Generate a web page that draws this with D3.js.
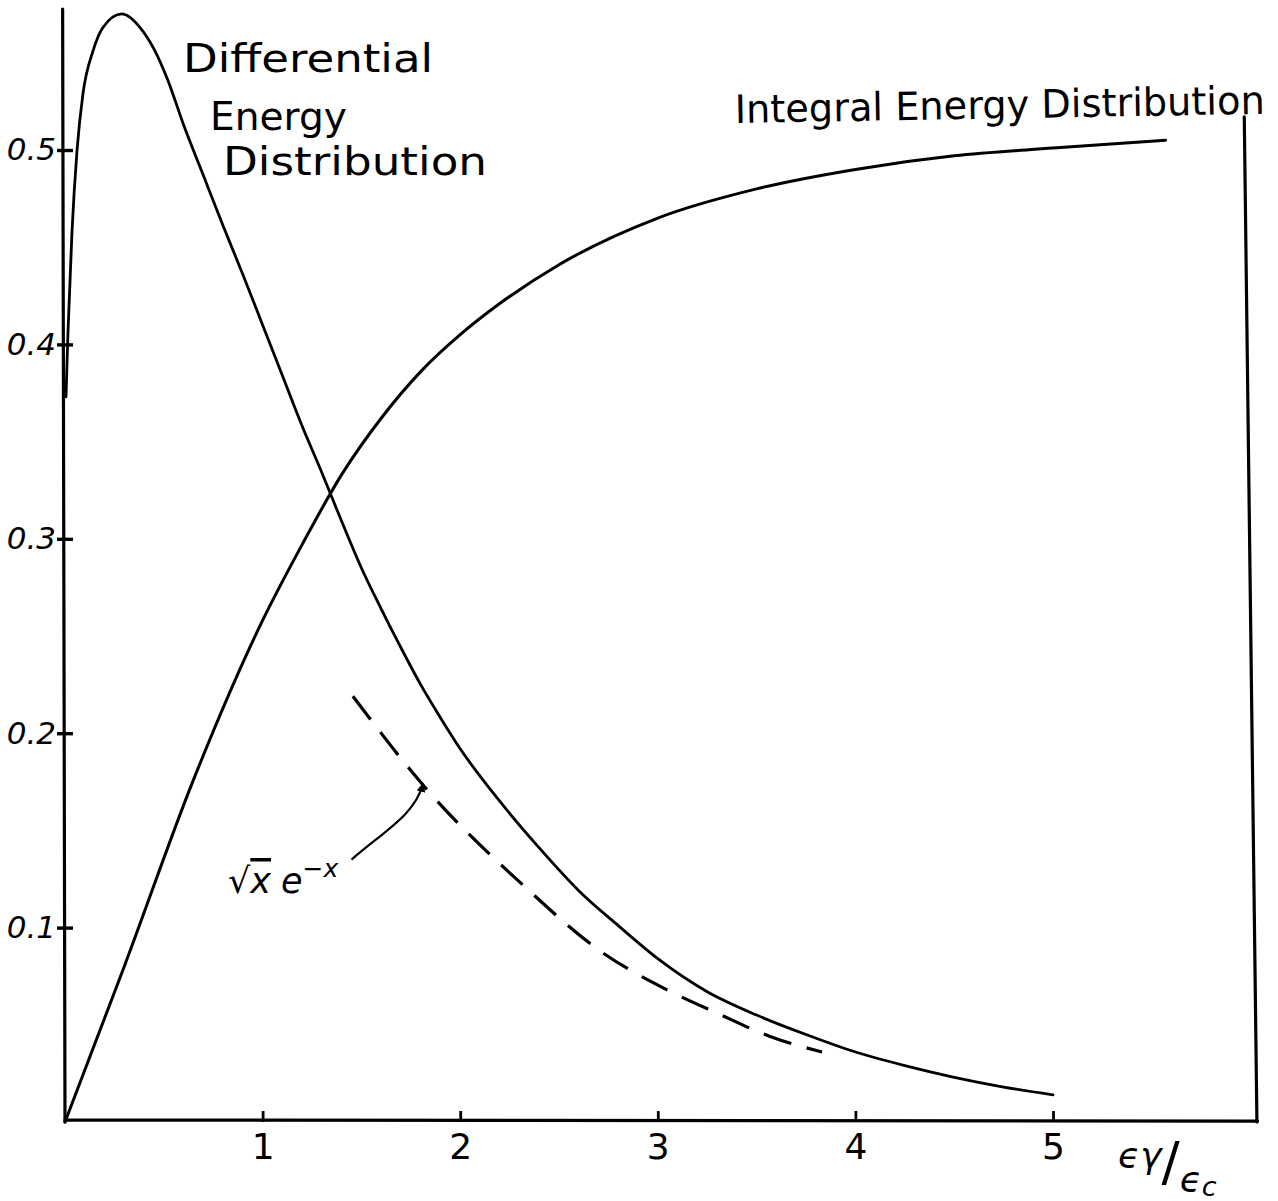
<!DOCTYPE html>
<html>
<head>
<meta charset="utf-8">
<script src="https://cdn.jsdelivr.net/npm/d3@7"></script>
<style>
  body { margin: 0; background: #fff; }
  svg { display: block; }
  text { font-family: "DejaVu Sans", sans-serif; fill: #000; }
</style>
</head>
<body>
<svg id="chart" width="1278" height="1201"></svg>
<script>
// Axis ticks
const xTicks = [1, 2, 3, 4, 5];
const xTickLabels = ["1", "2", "3", "4", "5"];
const yTicks = [0.1, 0.2, 0.3, 0.4, 0.5];
const yTickLabels = ["0.1", "0.2", "0.3", "0.4", "0.5"];

// Differential energy distribution (solid)
const diffX = [0.005, 0.015, 0.035, 0.061, 0.091, 0.142, 0.192, 0.288, 0.38, 0.45,
               0.52, 0.60, 0.70, 0.80, 0.90, 1.00, 1.10, 1.20, 1.30, 1.40,
               1.50, 1.60, 1.70, 1.80, 1.90, 2.00, 2.20, 2.40, 2.60, 2.80,
               3.00, 3.25, 3.50, 3.75, 4.00, 4.25, 4.50, 4.75, 5.00];
const diffY = [0.373, 0.406, 0.457, 0.500, 0.529, 0.551, 0.563, 0.570, 0.563, 0.552,
               0.536, 0.513, 0.487, 0.461, 0.436, 0.410, 0.384, 0.358, 0.334, 0.309,
               0.285, 0.264, 0.244, 0.225, 0.208, 0.192, 0.165, 0.141, 0.119, 0.101,
               0.084, 0.067, 0.055, 0.045, 0.036, 0.029, 0.023, 0.018, 0.014];

// Integral energy distribution (solid)
const integX = [0, 0.30, 0.65, 1.00, 1.20, 1.40, 1.60, 1.80, 2.00, 2.20,
                2.50, 3.00, 3.50, 4.00, 4.50, 5.00, 5.57];
const integY = [0, 0.080, 0.176, 0.258, 0.297, 0.333, 0.362, 0.386, 0.405, 0.421,
                0.441, 0.465, 0.480, 0.490, 0.497, 0.501, 0.505];

// Asymptotic form sqrt(x) e^-x (dashed)
const asymX = [1.457, 1.832, 2.338, 2.708, 3.047, 3.300, 3.568, 3.831];
const asymY = [0.219, 0.171, 0.120, 0.088, 0.068, 0.056, 0.044, 0.036];

const svg = d3.select("#chart");

const x = d3.scaleLinear().domain([0, 5]).range([65, 1053]);
const y = d3.scaleLinear().domain([0, 0.5]).range([1122, 150]);

const zip = (xs, ys) => xs.map((v, i) => [v, ys[i]]);
const line = d3.line().x(d => x(d[0])).y(d => y(d[1])).curve(d3.curveMonotoneX);

// Frame: left, bottom and right borders
const frame = svg.append("g").attr("stroke", "#000").attr("fill", "none")
  .attr("stroke-linecap", "round");
frame.append("line")
  .attr("x1", x(-0.012)).attr("y1", y(0.5725))
  .attr("x2", x(0)).attr("y2", y(0))
  .attr("stroke-width", 3.2);
frame.append("line")
  .attr("x1", x(0)).attr("y1", y(0.001))
  .attr("x2", x(6.035)).attr("y2", y(0.0005))
  .attr("stroke-width", 3.2);
frame.append("line")
  .attr("x1", x(5.968)).attr("y1", y(0.517))
  .attr("x2", x(6.032)).attr("y2", y(0))
  .attr("stroke-width", 3.2);

// Y axis: ticks straddle the border, labels to the left
const yAxis = svg.append("g")
  .attr("transform", `translate(${x(0) + 8},0)`)
  .call(d3.axisLeft(y).tickValues(yTicks)
    .tickFormat((d, i) => yTickLabels[i])
    .tickSize(16).tickPadding(1));
yAxis.select(".domain").remove();
yAxis.selectAll(".tick line").attr("stroke", "#000").attr("stroke-width", 3.4);
yAxis.selectAll(".tick text")
  .attr("font-family", "DejaVu Sans")
  .attr("font-size", 31)
  .attr("font-style", "italic")
  .attr("fill", "#000");

// X axis: short ticks pointing inward, labels below
const xAxis = svg.append("g")
  .attr("transform", `translate(0,${y(0)})`)
  .call(d3.axisBottom(x).tickValues(xTicks)
    .tickFormat((d, i) => xTickLabels[i])
    .tickSizeInner(-11).tickSizeOuter(0).tickPadding(11));
xAxis.select(".domain").remove();
xAxis.selectAll(".tick line").attr("stroke", "#000").attr("stroke-width", 2.8);
xAxis.selectAll(".tick text")
  .attr("font-family", "DejaVu Sans")
  .attr("font-size", 36)
  .attr("fill", "#000");

// Curves
svg.append("path")
  .datum(zip(diffX, diffY))
  .attr("d", line)
  .attr("fill", "none").attr("stroke", "#000").attr("stroke-width", 2.8)
  .attr("stroke-linejoin", "round").attr("stroke-linecap", "round");

svg.append("path")
  .datum(zip(integX, integY))
  .attr("d", line)
  .attr("fill", "none").attr("stroke", "#000").attr("stroke-width", 3)
  .attr("stroke-linejoin", "round").attr("stroke-linecap", "round");

svg.append("path")
  .datum(zip(asymX, asymY))
  .attr("d", line)
  .attr("fill", "none").attr("stroke", "#000").attr("stroke-width", 3.2)
  .attr("stroke-dasharray", "29,16");

// Curve labels
const labels = svg.append("g").attr("font-size", 39);
labels.append("text").attr("x", 183).attr("y", 72)
  .attr("textLength", 250).attr("lengthAdjust", "spacingAndGlyphs").text("Differential");
labels.append("text").attr("x", 210).attr("y", 130)
  .attr("textLength", 137).attr("lengthAdjust", "spacingAndGlyphs").text("Energy");
labels.append("text").attr("x", 223).attr("y", 175)
  .attr("textLength", 264).attr("lengthAdjust", "spacingAndGlyphs").text("Distribution");
labels.append("text")
  .attr("transform", "translate(735,123) rotate(-1)")
  .attr("textLength", 530).attr("lengthAdjust", "spacingAndGlyphs")
  .text("Integral Energy Distribution");

// Axis title  εγ/εc
const xt = svg.append("text").attr("x", 1118).attr("y", 1168).attr("font-size", 36)
  .attr("font-style", "italic");
xt.append("tspan").text("ϵγ");
xt.append("tspan").attr("font-size", 54).attr("font-style", "normal").attr("dy", 12).text("/");
xt.append("tspan").attr("dy", 12).text("ϵ");
xt.append("tspan").attr("font-size", 27).attr("dy", 4).text("c");

// Annotation for the dashed curve
const ann = svg.append("text").attr("x", 228).attr("y", 893).attr("font-size", 35)
  .attr("font-style", "italic");
ann.append("tspan").attr("font-style", "normal").text("√");
ann.append("tspan").attr("text-decoration", "overline").text("x");
ann.append("tspan").attr("dx", 10).text("e");
ann.append("tspan").attr("font-size", 25).attr("dy", -16).text("−x");

svg.append("defs").append("marker")
  .attr("id", "arrowhead").attr("viewBox", "0 0 10 10")
  .attr("refX", 9).attr("refY", 5)
  .attr("markerWidth", 9).attr("markerHeight", 9)
  .attr("markerUnits", "userSpaceOnUse")
  .attr("orient", "auto")
  .append("path").attr("d", "M0,0 L10,5 L0,10 Z").attr("fill", "#000");

const tail = [x(1.45), y(0.135)];
const c1 = [x(1.62), y(0.150)];
const c2 = [x(1.77), y(0.158)];
const tip = [x(1.812), y(0.174)];
svg.append("path")
  .attr("d", `M${tail} C${c1} ${c2} ${tip}`)
  .attr("fill", "none").attr("stroke", "#000").attr("stroke-width", 2.2)
  .attr("marker-end", "url(#arrowhead)");
</script>
</body>
</html>
